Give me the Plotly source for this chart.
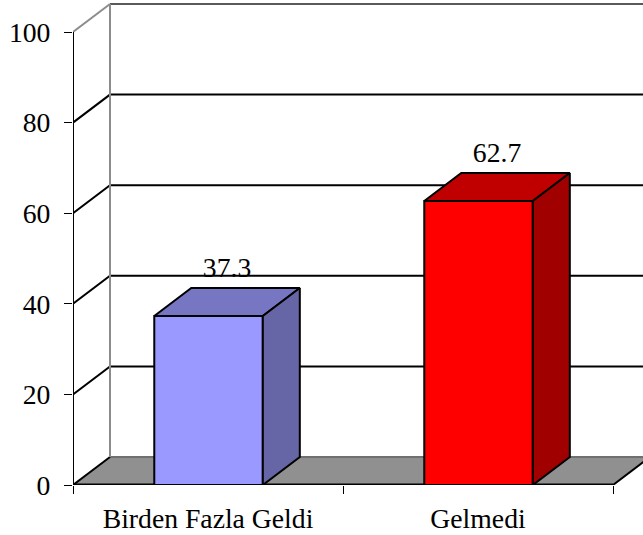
import plotly.graph_objects as go

categories = ["Birden Fazla Geldi", "Gelmedi"]
values = [37.3, 62.7]
value_labels = ["37.3", "62.7"]
y_ticks = [0, 20, 40, 60, 80, 100]
front_colors = ["#9999FF", "#FF0000"]
top_colors = ["#7676C2", "#C00000"]
side_colors = ["#6666A6", "#A00000"]

W, H = 643, 535
X0, X1, Y0, Y100 = 73, 613, 485, 32
DX_PX, DY_PX = 37, 28
LABEL_GAP_PX = 4
slot = (X1 - X0) / 2
unit = (Y0 - Y100) / 100
dx = DX_PX / slot
dy = DY_PX / unit
xmin, xmax = -0.5, 1.5
xr = [xmin, xmin + (W - X0) / slot]
yr = [0, Y0 / unit]
bar_w = 0.402
bar_shift = 0.002
FONT = "Liberation Serif"
FS = 27.7
GRAY = "#8C8C8C"

fig = go.Figure()

def line(xs, ys, color="black", width=2, clip=True, axes=("x", "y")):
    fig.add_trace(go.Scatter(x=xs, y=ys, mode="lines", line=dict(color=color, width=width),
                             cliponaxis=clip, hoverinfo="skip", showlegend=False,
                             xaxis=axes[0], yaxis=axes[1]))

def poly(xs, ys, fill, axes=("x", "y"), lw=2, lc="black"):
    fig.add_trace(go.Scatter(x=xs, y=ys, mode="lines", fill="toself", fillcolor=fill,
                             line=dict(color=lc, width=lw), hoverinfo="skip", showlegend=False,
                             xaxis=axes[0], yaxis=axes[1]))

# floor
poly([xmin, xmin + dx, xmax + dx, xmax, xmin], [0, dy, dy, 0, 0], "#909090", lw=0)
line([xmin + dx, xmax + dx], [dy, dy], color="#707070", width=2)
line([xmin, xmin + dx], [0, dy])
line([xmax, xmax + dx], [0, dy])

# walls
for v in y_ticks[1:-1]:
    line([xmin, xmin + dx, xmax + dx], [v, v + dy, v + dy])
line([xmin, xmin + dx], [100, 100 + dy], color=GRAY)
line([xmin + dx, xmax + dx], [100 + dy, 100 + dy], color="#5A5A5A")
line([xmin + dx, xmin + dx], [dy, 100 + dy], color=GRAY)
line([xmin, xmin], [0, 100], clip=False)
line([xmin, xmax], [0, 0], width=3, clip=False)

# bars on the overlaid axes, so they sit above the walls
ov = ("x2", "y2")
centers = [i + bar_shift for i in range(len(values))]
fig.add_trace(go.Bar(x=centers, y=values, width=bar_w, marker=dict(color=front_colors, line=dict(color="black", width=2)),
                     hoverinfo="skip", showlegend=False, xaxis="x2", yaxis="y2"))
for i, v in enumerate(values):
    l, r = centers[i] - bar_w / 2, centers[i] + bar_w / 2
    poly([l, l + dx, r + dx, r, l], [v, v + dy, v + dy, v, v], top_colors[i], ov)
    poly([r, r + dx, r + dx, r, r], [0, dy, v + dy, v, 0], side_colors[i], ov)
fig.add_trace(go.Scatter(x=[c + dx / 2 for c in centers], y=[v + dy + LABEL_GAP_PX / unit for v in values],
                         mode="text", text=value_labels, textposition="top center",
                         textfont=dict(family=FONT, size=FS, color="black"),
                         cliponaxis=False, hoverinfo="skip", showlegend=False, xaxis="x2", yaxis="y2"))

fig.update_layout(
    width=W, height=H, autosize=False, showlegend=False,
    margin=dict(l=X0, r=0, t=0, b=H - Y0, pad=0),
    paper_bgcolor="white", plot_bgcolor="white",
    font=dict(family=FONT, size=FS, color="black"),
    xaxis=dict(range=xr, tickmode="array", tickvals=[0, 1], ticktext=categories, ticks="", showgrid=False,
               zeroline=False, showline=False, ticklabelstandoff=14,
               minor=dict(tickmode="array", tickvals=[xmin, 0.5, xmax], ticks="outside", ticklen=8,
                          tickwidth=1, tickcolor="black", showgrid=False),
               tickfont=dict(family=FONT, size=FS, color="black")),
    yaxis=dict(range=yr, tickmode="array", tickvals=y_ticks, ticks="outside", ticklen=8, tickwidth=1,
               tickcolor="black", showgrid=False, zeroline=False, showline=False, ticklabelstandoff=8,
               tickfont=dict(family=FONT, size=FS, color="black")),
    xaxis2=dict(range=xr, overlaying="x", visible=False),
    yaxis2=dict(range=yr, overlaying="y", visible=False),
    barmode="overlay",
)

fig.write_html("out.html", config=dict(displayModeBar=False),
               post_script="document.body.style.margin='0';document.documentElement.style.overflow='hidden';")
